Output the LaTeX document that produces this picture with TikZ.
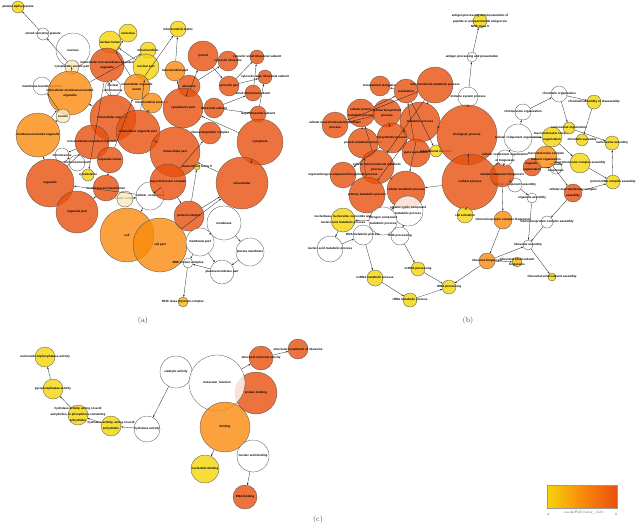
\documentclass[tikz,border=0pt]{standalone}
\usepackage{fontspec}
\newfontfamily\termfont{Liberation Sans}
\usetikzlibrary{arrows.meta}
\definecolor{goYellow}{RGB}{244,212,8}
\definecolor{goGold}{RGB}{247,180,10}
\definecolor{goOrange}{RGB}{250,138,12}
\definecolor{goRed}{RGB}{232,80,14}
\definecolor{goCream}{RGB}{250,232,185}
\newcommand{\gotext}[1]{\makebox[0pt]{\shortstack{#1}}}
\tikzset{
  term/.style={circle,draw=black!70,line width=0.3pt,fill opacity=0.8,
    text opacity=1,inner sep=0pt,minimum size=#1,
    font=\termfont\bfseries\fontsize{3}{3.3}\selectfont},
  yterm/.style={term=#1,fill=goYellow},
  gterm/.style={term=#1,fill=goGold},
  oterm/.style={term=#1,fill=goOrange},
  rterm/.style={term=#1,fill=goRed},
  wterm/.style={term=#1,fill=white},
  cterm/.style={term=#1,fill=goCream},
  link/.style={-{Stealth[length=2.2pt,width=1.6pt]},draw=black!85,line width=0.3pt},
  panel/.style={font=\fontsize{7.5}{8}\selectfont,text=black!75}
}
\begin{document}
\begin{tikzpicture}[x=1pt,y=-1pt]
  \useasboundingbox (0,0) rectangle (636,530);
  % (a) cellular component
  \node[yterm=12] (platelet) at (18,7) {\gotext{platelet alpha granule}};
  \node[wterm=12] (storedgran) at (43,34) {\gotext{stored secretory granule}};
  \node[wterm=34] (nucleus) at (73,50) {\gotext{nucleus}};
  \node[cterm=14] (cytves) at (72,67) {\gotext{cytoplasmic vesicle part}};
  \node[yterm=22] (nuclumen) at (110,42) {\gotext{nuclear lumen}};
  \node[yterm=18] (nucleolus) at (128,33) {\gotext{nucleolus}};
  \node[yterm=16] (mito) at (148,50) {\gotext{mitochondrion}};
  \node[yterm=26] (nucpart) at (146,67) {\gotext{nuclear part}};
  \node[rterm=34] (intranmb) at (107,65) {\gotext{intracellular non-membrane-bounded\\organelle}};
  \node[wterm=18] (mbves) at (42,86) {\gotext{membrane-bounded vesicle}};
  \node[oterm=44] (intramb) at (70,93) {\gotext{intracellular membrane-bounded\\organelle}};
  \node[wterm=16] (nuchrom) at (113,88) {\gotext{nuclear\\chromosome}};
  \node[oterm=26] (intraorglumen) at (137,87) {\gotext{intracellular organelle\\lumen}};
  \node[oterm=20] (mitoenv) at (152,103) {\gotext{mitochondrial envelope}};
  \node[yterm=16] (mitomatrix) at (178,29) {\gotext{mitochondrial matrix}};
  \node[oterm=20] (mitopart) at (175,71) {\gotext{mitochondrial part}};
  \node[rterm=30] (cytosol) at (203,56) {\gotext{cytosol}};
  \node[rterm=20] (cytribo) at (228,61) {\gotext{cytosolic ribosome}};
  \node[rterm=14] (cytsmall) at (257,57) {\gotext{cytosolic small ribosomal subunit}};
  \node[rterm=14] (cytlarge) at (265,77) {\gotext{cytosolic large ribosomal subunit}};
  \node[rterm=20] (cytosolpart) at (229,86) {\gotext{cytosolic part}};
  \node[rterm=16] (smallsub) at (253,93) {\gotext{small ribosomal subunit}};
  \node[rterm=22] (ribosome) at (189,86) {\gotext{ribosome}};
  \node[rterm=40] (cytpart) at (183,108) {\gotext{cytoplasmic part}};
  \node[rterm=20] (ribosub) at (214,108) {\gotext{ribosomal subunit}};
  \node[rterm=16] (largesub) at (258,114) {\gotext{large ribosomal subunit}};
  \node[rterm=46] (intraorg) at (113,118) {\gotext{intracellular organelle}};
  \node[cterm=14] (vesicle) at (63,116) {\gotext{vesicle}};
  \node[oterm=44] (mborg) at (38,135) {\gotext{membrane-bounded organelle}};
  \node[wterm=14] (chromosome) at (62,155) {\gotext{chromosome}};
  \node[wterm=16] (chrompart) at (77,163) {\gotext{chromosomal part}};
  \node[rterm=34] (nmborg) at (92,142) {\gotext{non-membrane-bounded organelle}};
  \node[rterm=26] (orglumen) at (110,160) {\gotext{organelle lumen}};
  \node[rterm=44] (intraorgpart) at (138,132) {\gotext{intracellular organelle part}};
  \node[yterm=12] (cytoskel) at (88,175) {\gotext{cytoskeleton}};
  \node[rterm=48] (organelle) at (50,183) {\gotext{organelle}};
  \node[rterm=42] (orgpart) at (77,212) {\gotext{organelle part}};
  \node[rterm=26] (mblumen) at (106,188) {\gotext{membrane-enclosed lumen}};
  \node[wterm=28] (cellcomp) at (150,196) {\gotext{cellular\_component}};
  \node[cterm=16] (cellcplx) at (125,199) {\gotext{\color{black!40}cellular complex}};
  \node[oterm=54] (cell) at (127,235) {\gotext{cell}};
  \node[oterm=54] (cellpart) at (160,245) {\gotext{cell part}};
  \node[rterm=22] (rnpcplx) at (210,133) {\gotext{ribonucleoprotein complex}};
  \node[rterm=46] (cytoplasm) at (260,142) {\gotext{cytoplasm}};
  \node[rterm=50] (intrapart) at (175,152) {\gotext{intracellular part}};
  \node[rterm=36] (macrocplx) at (168,182) {\gotext{macromolecular complex}};
  \node[yterm=6] (tfii) at (197,167) {\gotext{transcription factor II}};
  \node[rterm=52] (intracell) at (242,183) {\gotext{intracellular}};
  \node[rterm=30] (protcplx) at (189,216) {\gotext{protein complex}};
  \node[wterm=34] (membrane) at (224,223) {\gotext{membrane}};
  \node[wterm=28] (membpart) at (200,242) {\gotext{membrane part}};
  \node[wterm=28] (plasmem) at (250,252) {\gotext{plasma membrane}};
  \node[wterm=24] (plasmempart) at (222,272) {\gotext{plasma membrane part}};
  \node[wterm=10] (mhc) at (188,263) {\gotext{MHC protein complex}};
  \node[gterm=10] (mhcii) at (183,302) {\gotext{MHC class II protein complex}};
  \draw[link] (storedgran) -- (platelet);
  \draw[link] (cytves) -- (storedgran);
  \draw[link] (intramb) -- (nucleus);
  \draw[link] (intramb) -- (mito);
  \draw[link] (nucpart) -- (nuclumen);
  \draw[link] (intranmb) -- (nucleolus);
  \draw[link] (intraorglumen) -- (nuclumen);
  \draw[link] (mitopart) -- (mitomatrix);
  \draw[link] (intraorglumen) -- (mitomatrix);
  \draw[link] (cytpart) -- (mitopart);
  \draw[link] (cytpart) -- (ribosome);
  \draw[link] (cytpart) -- (cytosol);
  \draw[link] (cytosol) -- (cytosolpart);
  \draw[link] (ribosome) -- (cytribo);
  \draw[link] (cytosolpart) -- (cytsmall);
  \draw[link] (cytosolpart) -- (cytlarge);
  \draw[link] (smallsub) -- (cytsmall);
  \draw[link] (largesub) -- (cytlarge);
  \draw[link] (ribosub) -- (smallsub);
  \draw[link] (ribosub) -- (largesub);
  \draw[link] (cytpart) -- (ribosub);
  \draw[link] (cytoplasm) -- (cytpart);
  \draw[link] (intracell) -- (cytoplasm);
  \draw[link] (intracell) -- (intrapart);
  \draw[link] (cellpart) -- (intracell);
  \draw[link] (cellcomp) -- (macrocplx);
  \draw[link] (cellcomp) -- (cell);
  \draw[link] (cellcomp) -- (organelle);
  \draw[link] (cellcplx) -- (cellcomp);
  \draw[link] (membrane) -- (membpart);
  \draw[link] (membrane) -- (plasmem);
  \draw[link] (plasmem) -- (plasmempart);
  \draw[link] (membpart) -- (plasmempart);
  \draw[link] (plasmempart) -- (mhc);
  \draw[link] (membpart) -- (mhc);
  \draw[link] (mhc) -- (mhcii);
  \draw[link] (macrocplx) -- (protcplx);
  \draw[link] (macrocplx) -- (rnpcplx);
  \draw[link] (protcplx) -- (tfii);
  \draw[link] (protcplx) -- (intracell);
  \draw[link] (organelle) -- (mborg);
  \draw[link] (organelle) -- (nmborg);
  \draw[link] (orgpart) -- (mblumen);
  \draw[link] (mblumen) -- (orglumen);
  \draw[link] (orglumen) -- (intraorglumen);
  \draw[link] (mborg) -- (intramb);
  \draw[link] (mborg) -- (vesicle);
  \draw[link] (vesicle) -- (mbves);
  \draw[link] (intraorg) -- (intramb);
  \draw[link] (intraorg) -- (intranmb);
  \draw[link] (nmborg) -- (chromosome);
  \draw[link] (chromosome) -- (chrompart);
  \draw[link] (intranmb) -- (cytoskel);
  \draw[link] (intraorgpart) -- (nucpart);
  \draw[link] (intraorgpart) -- (mitoenv);
  \draw[link] (intrapart) -- (intraorgpart);
  \draw[link] (intranmb) -- (nuchrom);
  \node[panel] (labela) at (143,321) {(a)};
  % (b) biological process
  \node[yterm=10] (agmhc) at (480,21) {\gotext{antigen processing and presentation of\\peptide or polysaccharide antigen via\\MHC class II}};
  \node[wterm=10] (agpres) at (472,57) {\gotext{antigen processing and presentation}};
  \node[wterm=20] (immune) at (468,97) {\gotext{immune system process}};
  \node[rterm=20] (transelong) at (380,86) {\gotext{translational elongation}};
  \node[rterm=24] (translation) at (406,91) {\gotext{translation}};
  \node[rterm=36] (macromet) at (435,85) {\gotext{macromolecule metabolic process}};
  \node[rterm=28] (cellprotmet) at (361,113) {\gotext{cellular protein\\metabolic process}};
  \node[rterm=28] (cellbiosyn) at (387,113) {\gotext{cellular biosynthetic\\process}};
  \node[rterm=40] (metabolic) at (420,122) {\gotext{metabolic process}};
  \node[rterm=26] (macrobiosyn) at (335,125) {\gotext{cellular macromolecule biosynthetic\\process}};
  \node[rterm=30] (protmet) at (363,143) {\gotext{protein metabolic process}};
  \node[rterm=30] (biosyn) at (392,138) {\gotext{biosynthetic process}};
  \node[rterm=28] (geneexp) at (416,153) {\gotext{gene expression}};
  \node[yterm=12] (transinit) at (436,151) {\gotext{translational initiation}};
  \node[rterm=60] (bioproc) at (467,135) {\gotext{biological\_process}};
  \node[rterm=56] (cellproc) at (470,182) {\gotext{cellular process}};
  \node[rterm=34] (cellmacromet) at (377,167) {\gotext{cellular macromolecule metabolic\\process}};
  \node[rterm=26] (organonit) at (343,175) {\gotext{organonitrogen compound biosynthetic process}};
  \node[rterm=36] (primary) at (367,195) {\gotext{primary metabolic process}};
  \node[rterm=38] (cellmet) at (406,190) {\gotext{cellular metabolic process}};
  \node[wterm=30] (orgcyclic) at (408,211) {\gotext{organic cyclic compound\\metabolic process}};
  \node[wterm=28] (nitrogen) at (383,221) {\gotext{nitrogen compound\\metabolic process}};
  \node[yterm=24] (nucleobase) at (343,220) {\gotext{nucleobase, nucleoside, nucleotide and\\nucleic acid metabolic process}};
  \node[wterm=20] (rnamet) at (363,235) {\gotext{RNA metabolic process}};
  \node[wterm=18] (rnaproc) at (400,236) {\gotext{RNA processing}};
  \node[wterm=26] (nucacidmet) at (330,249) {\gotext{nucleic acid metabolic process}};
  \node[yterm=16] (cellact) at (465,215) {\gotext{cell activation}};
  \node[yterm=16] (ncrnamet) at (375,278) {\gotext{ncRNA metabolic process}};
  \node[yterm=14] (ncrnaproc) at (418,269) {\gotext{ncRNA processing}};
  \node[yterm=14] (rrnamet) at (410,300) {\gotext{rRNA metabolic process}};
  \node[yterm=14] (rrnaproc) at (449,287) {\gotext{rRNA processing}};
  \node[oterm=16] (ribobiog) at (487,261) {\gotext{ribosome biogenesis}};
  \node[gterm=10] (smallbiog) at (517,262) {\gotext{ribosomal small subunit\\biogenesis}};
  \node[wterm=10] (riboassem) at (528,245) {\gotext{ribosome assembly}};
  \node[yterm=8] (smallassem) at (552,277) {\gotext{ribosomal small subunit assembly}};
  \node[oterm=18] (rnpbiog) at (503,220) {\gotext{ribonucleoprotein complex biogenesis}};
  \node[wterm=12] (rnpassem) at (547,222) {\gotext{ribonucleoprotein complex assembly}};
  \node[wterm=10] (organassem) at (532,198) {\gotext{organelle assembly}};
  \node[rterm=18] (cmcassem) at (573,193) {\gotext{cellular macromolecular complex\\assembly}};
  \node[yterm=14] (pdnaassem) at (613,182) {\gotext{protein-DNA complex assembly}};
  \node[wterm=14] (compassem) at (515,185) {\gotext{cellular component assembly}};
  \node[rterm=24] (compbiog) at (502,175) {\gotext{cellular component biogenesis}};
  \node[wterm=28] (cco) at (518,138) {\gotext{cellular component organization}};
  \node[wterm=16] (ccob) at (505,158) {\gotext{cellular component organization\\or biogenesis}};
  \node[rterm=18] (orgorg) at (532,167) {\gotext{organelle\\organization}};
  \node[wterm=12] (orgbiog) at (556,168) {\gotext{organelle\\biogenesis}};
  \node[yterm=20] (mcorg) at (552,137) {\gotext{macromolecular complex\\organization}};
  \node[oterm=22] (mcsub) at (546,157) {\gotext{macromolecular complex\\subunit organization}};
  \node[yterm=20] (mcassem) at (580,163) {\gotext{macromolecular complex assembly}};
  \node[wterm=16] (chromorg) at (523,112) {\gotext{chromosome organization}};
  \node[wterm=16] (chromatinorg) at (559,94) {\gotext{chromatin organization}};
  \node[yterm=14] (chromassem) at (594,102) {\gotext{chromatin assembly or disassembly}};
  \node[yterm=12] (nucorg) at (569,128) {\gotext{nucleosome organization}};
  \node[yterm=12] (chromatinassem) at (582,140) {\gotext{chromatin assembly}};
  \node[yterm=14] (nucassem) at (612,143) {\gotext{nucleosome assembly}};
  \draw[link] (agpres) -- (agmhc);
  \draw[link] (immune) -- (agpres);
  \draw[link] (bioproc) -- (immune);
  \draw[link] (bioproc) -- (metabolic);
  \draw[link] (bioproc) -- (cellproc);
  \draw[link] (metabolic) -- (macromet);
  \draw[link] (metabolic) -- (primary);
  \draw[link] (metabolic) -- (biosyn);
  \draw[link] (metabolic) -- (cellmet);
  \draw[link] (macromet) -- (cellmacromet);
  \draw[link] (macromet) -- (macrobiosyn);
  \draw[link] (primary) -- (protmet);
  \draw[link] (protmet) -- (cellprotmet);
  \draw[link] (cellmacromet) -- (cellprotmet);
  \draw[link] (cellprotmet) -- (translation);
  \draw[link] (geneexp) -- (translation);
  \draw[link] (translation) -- (transelong);
  \draw[link] (translation) -- (transinit);
  \draw[link] (biosyn) -- (cellbiosyn);
  \draw[link] (biosyn) -- (organonit);
  \draw[link] (cellbiosyn) -- (macrobiosyn);
  \draw[link] (cellmet) -- (cellmacromet);
  \draw[link] (cellproc) -- (cellmet);
  \draw[link] (cellproc) -- (cellact);
  \draw[link] (cellproc) -- (ccob);
  \draw[link] (cellmet) -- (nitrogen);
  \draw[link] (nitrogen) -- (nucleobase);
  \draw[link] (orgcyclic) -- (rnaproc);
  \draw[link] (nucleobase) -- (nucacidmet);
  \draw[link] (nucacidmet) -- (rnamet);
  \draw[link] (rnamet) -- (ncrnamet);
  \draw[link] (rnaproc) -- (ncrnaproc);
  \draw[link] (ncrnamet) -- (rrnamet);
  \draw[link] (ncrnaproc) -- (rrnaproc);
  \draw[link] (rrnamet) -- (rrnaproc);
  \draw[link] (ribobiog) -- (rrnaproc);
  \draw[link] (ribobiog) -- (smallbiog);
  \draw[link] (ribobiog) -- (riboassem);
  \draw[link] (riboassem) -- (smallassem);
  \draw[link] (rnpbiog) -- (ribobiog);
  \draw[link] (rnpassem) -- (riboassem);
  \draw[link] (organassem) -- (riboassem);
  \draw[link] (compbiog) -- (rnpbiog);
  \draw[link] (ccob) -- (compbiog);
  \draw[link] (ccob) -- (cco);
  \draw[link] (compbiog) -- (compassem);
  \draw[link] (compassem) -- (organassem);
  \draw[link] (cco) -- (chromorg);
  \draw[link] (chromorg) -- (chromatinorg);
  \draw[link] (chromatinorg) -- (chromassem);
  \draw[link] (chromatinorg) -- (nucorg);
  \draw[link] (chromassem) -- (chromatinassem);
  \draw[link] (nucorg) -- (nucassem);
  \draw[link] (pdnaassem) -- (nucassem);
  \draw[link] (mcassem) -- (pdnaassem);
  \draw[link] (cmcassem) -- (pdnaassem);
  \draw[link] (cmcassem) -- (rnpassem);
  \draw[link] (mcorg) -- (mcassem);
  \draw[link] (cco) -- (mcorg);
  \draw[link] (mcsub) -- (cmcassem);
  \draw[link] (orgorg) -- (orgbiog);
  \node[panel] (labelb) at (468,321) {(b)};
  % (c) molecular function
  \node[yterm=20] (ntpase) at (45,357) {\gotext{nucleoside-triphosphatase activity}};
  \node[yterm=20] (pyro) at (53,389) {\gotext{pyrophosphatase activity}};
  \node[yterm=20] (hydphos) at (78,415) {\gotext{hydrolase activity, acting on acid\\anhydrides, in phosphorus-containing\\anhydrides}};
  \node[yterm=20] (hydacid) at (111,426) {\gotext{hydrolase activity, acting on acid\\anhydrides}};
  \node[wterm=26] (hydrolase) at (147,429) {\gotext{hydrolase activity}};
  \node[wterm=32] (catalytic) at (176,372) {\gotext{catalytic activity}};
  \node[rterm=42] (protbind) at (256,393) {\gotext{protein binding}};
  \node[wterm=56] (molfunc) at (217,383) {\gotext{molecular\_function}};
  \node[rterm=24] (structmol) at (261,358) {\gotext{structural molecule activity}};
  \node[rterm=20] (structribo) at (298,349) {\gotext{structural constituent of ribosome}};
  \node[oterm=50] (binding) at (225,427) {\gotext{binding}};
  \node[yterm=28] (nuclbind) at (205,469) {\gotext{nucleotide binding}};
  \node[wterm=32] (nabind) at (253,456) {\gotext{nucleic acid binding}};
  \node[rterm=24] (dnabind) at (245,497) {\gotext{DNA binding}};
  \draw[link] (molfunc) -- (structmol);
  \draw[link] (structmol) -- (structribo);
  \draw[link] (catalytic) -- (hydrolase);
  \draw[link] (hydrolase) -- (hydacid);
  \draw[link] (hydacid) -- (hydphos);
  \draw[link] (hydphos) -- (pyro);
  \draw[link] (pyro) -- (ntpase);
  \draw[link] (binding) -- (nuclbind);
  \draw[link] (nabind) -- (dnabind);
  \node[panel] (labelc) at (318,520) {(c)};
  % colour legend
  \shade[left color=goYellow,right color=goRed,middle color=goOrange,draw=black!40,line width=0.3pt]
    (547,485) rectangle (617,508);
  \node[font=\fontsize{3.5}{4}\selectfont,text=black!70] (legtitle) at (584,513) {nodeFillColor\_GO};
  \node[font=\fontsize{3.5}{4}\selectfont,text=black!70] (legmin) at (548,514) {4};
  \node[font=\fontsize{3.5}{4}\selectfont,text=black!70] (legmax) at (616,514) {9};
\end{tikzpicture}
\end{document}
